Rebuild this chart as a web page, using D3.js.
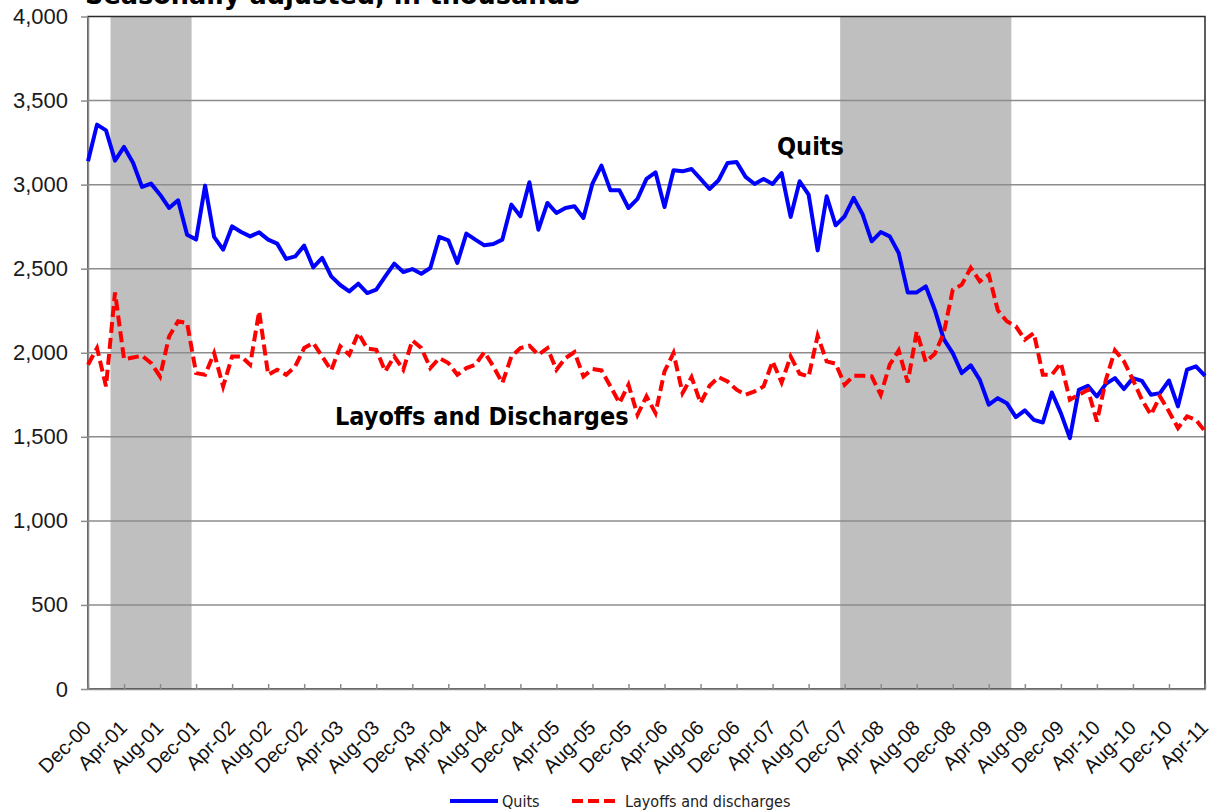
<!DOCTYPE html>
<html>
<head>
<meta charset="utf-8">
<script src="https://cdn.jsdelivr.net/npm/d3@7"></script>
<style>
  body { margin: 0; background: #fff; }
  svg { font-family: "DejaVu Sans Condensed", "DejaVu Sans", sans-serif; font-stretch: condensed; }
</style>
</head>
<body>
<svg id="chart" width="1212" height="810"></svg>
<script>
// monthly JOLTS levels, Dec-00 .. Apr-11 (thousands)
const quits = [
  3139, 3357, 3323, 3143, 3224, 3130, 2986, 3006, 2940, 2861, 2907, 2702, 2673, 2994, 2689, 2613,
  2752, 2718, 2692, 2716, 2673, 2649, 2558, 2573, 2637, 2508, 2564, 2454, 2403, 2365, 2411, 2355,
  2375, 2454, 2530, 2480, 2498, 2470, 2504, 2689, 2669, 2534, 2709, 2673, 2639, 2647, 2673, 2881,
  2812, 3014, 2732, 2891, 2831, 2861, 2871, 2802, 3006, 3113, 2966, 2966, 2861, 2915, 3034,
  3073, 2867, 3085, 3079, 3093, 3034, 2974, 3026, 3129, 3135, 3046, 3004, 3034, 3004, 3069, 2808,
  3020, 2940, 2609, 2931, 2758, 2812, 2921, 2822, 2663, 2718, 2692, 2593, 2359, 2359, 2395,
  2256, 2081, 1998, 1879, 1925, 1839, 1691, 1730, 1700, 1617, 1657, 1601, 1585, 1764, 1641, 1492,
  1780, 1804, 1740, 1815, 1849, 1784, 1849, 1833, 1750, 1760, 1835, 1681, 1899, 1919, 1863
];

const layoffs = [
  1929, 2028, 1800, 2359, 1962, 1972, 1982, 1939, 1859, 2097, 2187, 2177, 1879, 1869, 1998, 1800,
  1978, 1978, 1929, 2246, 1869, 1899, 1869, 1919, 2028, 2058, 1978, 1895, 2038, 1988, 2117, 2025,
  2018, 1889, 1978, 1899, 2073, 2028, 1909, 1968, 1939, 1869, 1909, 1929, 2004, 1919, 1820, 1978,
  2028, 2042, 1988, 2028, 1899, 1968, 2004, 1859, 1903, 1895, 1800, 1701, 1810, 1631, 1740,
  1641, 1889, 1998, 1760, 1855, 1701, 1804, 1855, 1829, 1780, 1750, 1770, 1800, 1949, 1823, 1978,
  1875, 1859, 2101, 1949, 1935, 1810, 1863, 1863, 1859, 1750, 1929, 2014, 1823, 2127, 1945,
  1994, 2117, 2375, 2405, 2505, 2425, 2464, 2252, 2187, 2157, 2078, 2117, 1869, 1869, 1939, 1720,
  1750, 1780, 1591, 1839, 2014, 1949, 1839, 1720, 1631, 1740, 1651, 1552, 1621, 1601, 1532
];

const tickLabels = [
  "Dec-00", "Apr-01", "Aug-01", "Dec-01", "Apr-02", "Aug-02", "Dec-02", "Apr-03", "Aug-03",
  "Dec-03", "Apr-04", "Aug-04", "Dec-04", "Apr-05", "Aug-05", "Dec-05", "Apr-06", "Aug-06",
  "Dec-06", "Apr-07", "Aug-07", "Dec-07", "Apr-08", "Aug-08", "Dec-08", "Apr-09", "Aug-09",
  "Dec-09", "Apr-10", "Aug-10", "Dec-10", "Apr-11"
];

const yTicks = [0, 500, 1000, 1500, 2000, 2500, 3000, 3500, 4000];

// recession months (shaded), first and last month
const recessions = [["Mar-01", "Nov-01"], ["Dec-07", "Jun-09"]];

const seriesNames = ["Quits", "Layoffs and discharges"];
const seriesColors = ["#0000ff", "#ff0000"];

var fmtMonth = d3.timeFormat("%b-%y");
var months = d3.timeMonth.range(new Date(2000, 11, 1), new Date(2011, 4, 1)).map(fmtMonth);

var svg = d3.select("#chart");
var plotLeft = 88, plotRight = 1205, plotTop = 16.5, plotBottom = 689;

var x = d3.scalePoint().domain(months).range([plotLeft, plotRight]);
var y = d3.scaleLinear().domain([0, 4000]).range([plotBottom, plotTop]);
var step = x.step();

// title, mostly cut off at the top
svg.append("text")
  .attr("x", 85)
  .attr("y", 4)
  .attr("textLength", 495)
  .attr("lengthAdjust", "spacingAndGlyphs")
  .style("font-weight", "bold")
  .style("font-size", "26px")
  .text("Seasonally adjusted, in thousands");

// recession bars
svg.selectAll(".recession")
  .data(recessions)
  .enter().append("rect")
  .attr("class", "recession")
  .attr("fill", "#bfbfbf")
  .attr("x", function(d) { return x(d[0]) - step / 2; })
  .attr("y", plotTop)
  .attr("width", function(d) { return x(d[1]) - x(d[0]) + step; })
  .attr("height", plotBottom - plotTop);

// gridlines
svg.selectAll(".grid")
  .data(yTicks.filter(function(d) { return d > 0 && d < 4000; }))
  .enter().append("line")
  .attr("class", "grid")
  .attr("x1", plotLeft).attr("x2", plotRight)
  .attr("y1", function(d) { return y(d); })
  .attr("y2", function(d) { return y(d); })
  .attr("stroke", "#8c8c8c")
  .attr("stroke-width", 1.5);

// plot border
svg.append("rect")
  .attr("x", plotLeft).attr("y", plotTop)
  .attr("width", plotRight - plotLeft).attr("height", plotBottom - plotTop)
  .attr("fill", "none")
  .attr("stroke", "#2a2a2a")
  .attr("stroke-width", 1.5);

// y axis
var yAxis = svg.append("g")
  .attr("transform", "translate(" + plotLeft + ",0)")
  .call(d3.axisLeft(y).tickValues(yTicks).tickSizeInner(7).tickSizeOuter(0)
    .tickPadding(13).tickFormat(d3.format(",")));
yAxis.select(".domain").attr("stroke", "#8c8c8c").attr("stroke-width", 1.5);
yAxis.selectAll(".tick line").attr("stroke", "#8c8c8c").attr("stroke-width", 1.5);
yAxis.selectAll("text")
  .style("font-size", "22px")
  .attr("fill", "#1a1a1a");

// x axis
var xAxis = svg.append("g")
  .attr("transform", "translate(0," + plotBottom + ")")
  .call(d3.axisBottom(x).tickValues(tickLabels).tickSizeInner(-5).tickSizeOuter(0));
xAxis.select(".domain").attr("stroke", "#8c8c8c").attr("stroke-width", 1.5);
xAxis.selectAll(".tick line").attr("stroke", "#8c8c8c").attr("stroke-width", 1.5);
xAxis.selectAll("text")
  .style("font-size", "20px")
  .style("text-anchor", "end")
  .attr("fill", "#111")
  .attr("y", 0)
  .attr("dy", "0.35em")
  .attr("transform", "translate(-1,35) rotate(-45)");

// series lines
var line = d3.line()
  .x(function(d, i) { return x(months[i]); })
  .y(function(d) { return y(d); });

svg.append("path")
  .datum(quits)
  .attr("fill", "none")
  .attr("stroke", seriesColors[0])
  .attr("stroke-width", 4)
  .attr("stroke-linejoin", "round")
  .attr("d", line);

svg.append("path")
  .datum(layoffs)
  .attr("fill", "none")
  .attr("stroke", seriesColors[1])
  .attr("stroke-width", 4)
  .attr("stroke-dasharray", "11,5")
  .attr("d", line);

// in-chart labels
svg.append("text")
  .attr("x", 777).attr("y", 155)
  .style("font-weight", "bold").style("font-size", "25px")
  .text("Quits");

svg.append("text")
  .attr("x", 335).attr("y", 425)
  .style("font-weight", "bold").style("font-size", "25px")
  .text("Layoffs and Discharges");

// legend
var legend = svg.selectAll(".legend")
  .data(seriesNames)
  .enter().append("g")
  .attr("class", "legend")
  .attr("transform", function(d, i) { return "translate(" + [450, 572][i] + ",801)"; });

legend.append("line")
  .attr("x1", 0).attr("x2", function(d, i) { return i == 0 ? 48 : 46; })
  .attr("stroke", function(d, i) { return seriesColors[i]; })
  .attr("stroke-width", 4)
  .attr("stroke-dasharray", function(d, i) { return i == 0 ? null : "11,5"; });

legend.append("text")
  .attr("x", function(d, i) { return i == 0 ? 52 : 53; })
  .attr("y", 5.5)
  .style("font-size", "16px")
  .attr("fill", "#222")
  .text(function(d) { return d; });
</script>
</body>
</html>
